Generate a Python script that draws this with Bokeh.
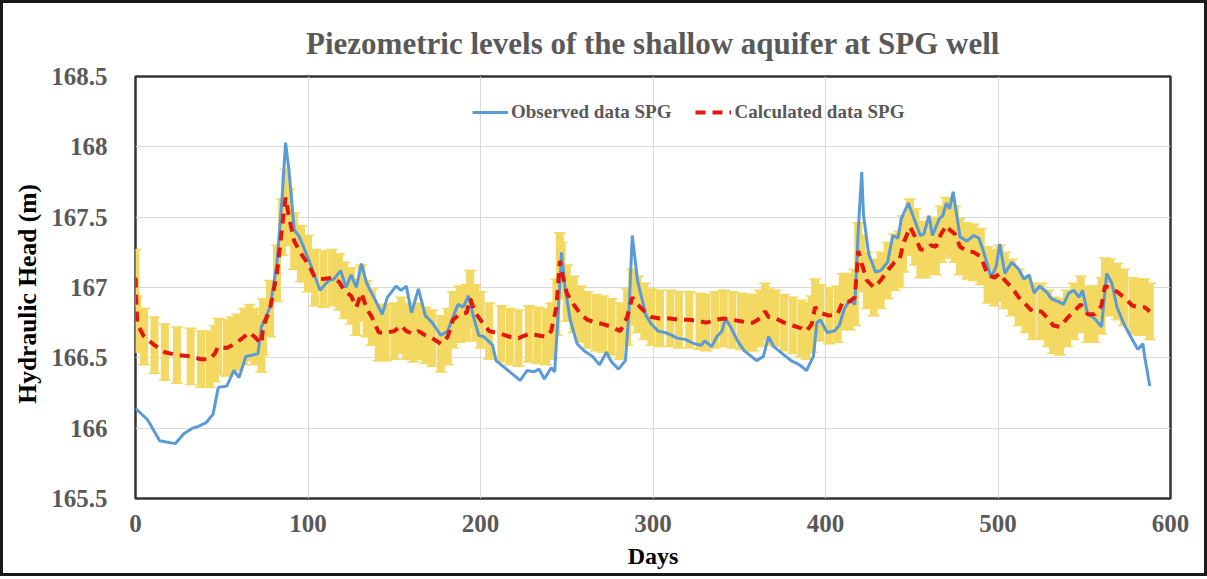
from bokeh.plotting import figure
from bokeh.models import Legend, LegendItem, FixedTicker, Range1d, ColumnDataSource
from bokeh.embed import file_html
from bokeh.resources import INLINE

# Observed piezometric head at the SPG well (m)
obs_days = [0, 7, 14, 23, 28, 33, 36, 41, 45, 48, 53, 57, 60, 64, 68, 71, 73, 78, 82, 85,
            87, 89, 92, 95, 101, 107, 112, 115, 119, 122, 125, 128, 131, 134, 139, 143, 146,
            151, 154, 157, 160, 164, 168, 172, 177, 181, 185, 187, 190, 193, 196, 199, 202,
            207, 209, 214, 218, 223, 227, 231, 234, 237, 241, 243, 245, 247, 249, 252, 256,
            260, 265, 269, 273, 276, 280, 284, 286, 288, 291, 293, 296, 299, 303, 307, 311,
            314, 319, 324, 328, 330, 334, 337, 340, 342, 345, 349, 353, 357, 360, 364, 367,
            370, 375, 380, 385, 389, 391, 393, 395, 397, 401, 405, 408, 411, 414, 417, 419,
            421, 422, 425, 429, 432, 436, 439, 442, 444, 448, 451, 455, 457, 460, 462, 466,
            468, 470, 472, 474, 476, 478, 482, 486, 489, 492, 496, 499, 501, 504, 508, 512,
            515, 518, 521, 524, 528, 531, 535, 538, 541, 544, 547, 549, 552, 556, 560, 563,
            566, 569, 573, 577, 581, 584, 585, 588]
obs_head = [166.14, 166.06, 165.91, 165.89, 165.96, 166.00, 166.01, 166.04, 166.10, 166.29,
            166.30, 166.41, 166.36, 166.51, 166.52, 166.53, 166.72, 166.86, 167.17, 167.64,
            168.03, 167.83, 167.41, 167.36, 167.18, 166.98, 167.05, 167.06, 167.12, 167.00,
            167.09, 167.00, 167.17, 167.03, 166.91, 166.81, 166.93, 167.01, 166.98, 167.01,
            166.82, 166.99, 166.80, 166.75, 166.66, 166.69, 166.82, 166.88, 166.86, 166.94,
            166.79, 166.66, 166.65, 166.59, 166.48, 166.43, 166.39, 166.34, 166.41, 166.40,
            166.42, 166.35, 166.43, 166.40, 166.81, 167.25, 167.00, 166.77, 166.60, 166.55,
            166.51, 166.45, 166.54, 166.47, 166.42, 166.48, 166.81, 167.37, 167.05, 166.95,
            166.80, 166.74, 166.69, 166.68, 166.66, 166.64, 166.63, 166.60, 166.59, 166.62,
            166.58, 166.65, 166.69, 166.78, 166.72, 166.62, 166.55, 166.51, 166.48, 166.51,
            166.65, 166.58, 166.53, 166.48, 166.45, 166.41, 166.46, 166.51, 166.75, 166.77,
            166.68, 166.69, 166.73, 166.85, 166.91, 166.88, 167.41, 167.82, 167.52, 167.24,
            167.11, 167.12, 167.18, 167.37, 167.35, 167.49, 167.60, 167.50, 167.37, 167.38,
            167.51, 167.37, 167.49, 167.51, 167.60, 167.56, 167.68, 167.52, 167.36, 167.33,
            167.37, 167.35, 167.24, 167.07, 167.15, 167.31, 167.10, 167.18, 167.13, 167.06,
            167.09, 166.96, 167.01, 166.97, 166.92, 166.90, 166.88, 166.96, 166.98, 166.93,
            166.98, 166.81, 166.78, 166.72, 167.10, 167.03, 166.86, 166.74, 166.65, 166.56,
            166.60, 166.51, 166.30]

# Calculated piezometric head at the SPG well (m)
calc_days = [0, 1, 5, 11, 17, 24, 32, 38, 43, 46, 48, 53, 56, 59, 63, 66, 69, 73, 74, 78,
             82, 85, 87, 89, 92, 96, 100, 104, 109, 114, 118, 121, 125, 128, 131, 134, 137,
             141, 145, 150, 154, 157, 161, 164, 168, 172, 177, 181, 184, 188, 192, 194, 197,
             200, 205, 212, 217, 222, 228, 233, 238, 241, 244, 246, 247, 250, 254, 258, 262,
             267, 271, 276, 281, 285, 288, 291, 295, 299, 304, 310, 315, 321, 327, 331, 336,
             341, 346, 351, 355, 358, 362, 365, 367, 371, 376, 381, 386, 389, 392, 394, 397,
             402, 407, 410, 414, 417, 419, 421, 424, 428, 432, 436, 440, 443, 445, 449, 452,
             455, 458, 461, 464, 467, 470, 472, 475, 478, 482, 486, 490, 494, 498, 501, 504,
             508, 512, 516, 520, 525, 529, 532, 536, 540, 544, 548, 552, 556, 560, 562, 565,
             569, 573, 578, 582, 585, 588]
calc_head = [167.07, 166.74, 166.65, 166.59, 166.54, 166.52, 166.51, 166.49, 166.49, 166.53,
             166.58, 166.57, 166.59, 166.61, 166.65, 166.68, 166.65, 166.60, 166.72, 166.85,
             167.10, 167.43, 167.64, 167.50, 167.33, 167.24, 167.17, 167.07, 167.06, 167.07,
             167.04, 166.98, 166.94, 166.86, 166.96, 166.85, 166.79, 166.68, 166.68, 166.69,
             166.73, 166.69, 166.67, 166.69, 166.66, 166.64, 166.60, 166.65, 166.77, 166.81,
             166.82, 166.92, 166.82, 166.77, 166.69, 166.67, 166.65, 166.64, 166.67, 166.66,
             166.65, 166.69, 166.86, 167.19, 167.12, 166.96, 166.88, 166.81, 166.77, 166.75,
             166.74, 166.72, 166.69, 166.79, 166.93, 166.88, 166.83, 166.79, 166.78, 166.78,
             166.77, 166.77, 166.76, 166.75, 166.77, 166.78, 166.77, 166.76, 166.75, 166.75,
             166.78, 166.83, 166.79, 166.78, 166.75, 166.73, 166.71, 166.69, 166.74, 166.86,
             166.82, 166.80, 166.81, 166.90, 166.90, 166.93, 167.26, 167.17, 167.05, 167.00,
             167.05, 167.12, 167.18, 167.20, 167.31, 167.43, 167.36, 167.27, 167.27, 167.30,
             167.29, 167.38, 167.44, 167.41, 167.38, 167.29, 167.26, 167.25, 167.22, 167.09,
             167.07, 167.10, 167.05, 167.00, 166.93, 166.88, 166.83, 166.83, 166.78, 166.73,
             166.72, 166.78, 166.83, 166.88, 166.81, 166.81, 166.87, 167.01, 167.00, 166.97,
             166.93, 166.87, 166.86, 166.86, 166.83]

# Uncertainty on the calculated head (m)
calc_error = 0.2

x_ticks = [0, 100, 200, 300, 400, 500, 600]
y_ticks = [165.5, 166, 166.5, 167, 167.5, 168, 168.5]
y_tick_labels = ["165.5", "166", "166.5", "167", "167.5", "168", "168.5"]

SERIF = "Liberation Serif"
GREY_TEXT = "#595959"

calc_src = ColumnDataSource(dict(
    x=calc_days,
    y=calc_head,
    lo=[v - calc_error for v in calc_head],
    hi=[v + calc_error for v in calc_head],
))
obs_src = ColumnDataSource(dict(x=obs_days, y=obs_head))

p = figure(
    frame_width=1035, frame_height=422,
    min_border_left=132, min_border_right=34, min_border_top=73, min_border_bottom=75,
    x_range=Range1d(0, 600), y_range=Range1d(165.5, 168.5),
    output_backend="svg", toolbar_location=None,
    title="Piezometric levels of the shallow aquifer at SPG well",
)
p.styles = {"border": "3px solid #1a1a1a"}

p.title.align = "center"
p.title.text_font = SERIF
p.title.text_font_size = "31px"
p.title.text_font_style = "bold"
p.title.text_color = GREY_TEXT
p.title.standoff = 31

p.outline_line_color = "#333333"
p.outline_line_width = 2.5
p.background_fill_color = "white"
p.border_fill_color = "white"

p.xgrid.ticker = FixedTicker(ticks=x_ticks)
p.ygrid.ticker = FixedTicker(ticks=y_ticks)
p.grid.grid_line_color = "#d9d9d9"
p.grid.grid_line_width = 1

p.xaxis.ticker = FixedTicker(ticks=x_ticks)
p.yaxis.ticker = FixedTicker(ticks=y_ticks)
p.yaxis.major_label_overrides = {t: s for t, s in zip(y_ticks, y_tick_labels)}

for ax in (p.xaxis[0], p.yaxis[0]):
    ax.axis_line_color = None
    ax.major_tick_line_color = None
    ax.minor_tick_line_color = None
    ax.major_label_text_font = SERIF
    ax.major_label_text_font_style = "bold"
    ax.major_label_text_font_size = "25px"
    ax.major_label_text_color = GREY_TEXT
    ax.axis_label_text_font = SERIF
    ax.axis_label_text_font_style = "bold"
    ax.axis_label_text_color = "black"

p.xaxis.axis_label = "Days"
p.yaxis.axis_label = "Hydraulic  Head  (m)"
p.xaxis.axis_label_text_font_size = "24px"
p.yaxis.axis_label_text_font_size = "25.5px"
p.xaxis.major_label_standoff = 10
p.yaxis.major_label_standoff = 22
p.xaxis.axis_label_standoff = 8
p.yaxis.axis_label_standoff = 6

# Error bars on the calculated series
YELLOW = "#f3d862"
p.segment(x0="x", y0="lo", x1="x", y1="hi", source=calc_src,
          line_color=YELLOW, line_width=8)
p.scatter(x="x", y="hi", source=calc_src, marker="dash", size=12,
          line_color=YELLOW, line_width=1.5)
p.scatter(x="x", y="lo", source=calc_src, marker="dash", size=12,
          line_color=YELLOW, line_width=1.5)

obs_r = p.line(x="x", y="y", source=obs_src, line_color="#5b9bd5", line_width=3)
calc_r = p.line(x="x", y="y", source=calc_src, line_color="#e3170d",
                line_width=4, line_dash="10 7")

legend = Legend(
    items=[LegendItem(label="Observed data SPG", renderers=[obs_r]),
           LegendItem(label="Calculated data SPG", renderers=[calc_r])],
    orientation="horizontal",
    location=(337, 375),
    label_text_font=SERIF,
    label_text_font_style="bold",
    label_text_font_size="19px",
    label_text_color=GREY_TEXT,
    glyph_width=36,
    label_standoff=3,
    spacing=24,
    padding=0,
    margin=0,
    background_fill_alpha=0,
    border_line_color=None,
)
p.add_layout(legend, "center")

open("out.html", "w").write(file_html(p, INLINE))
